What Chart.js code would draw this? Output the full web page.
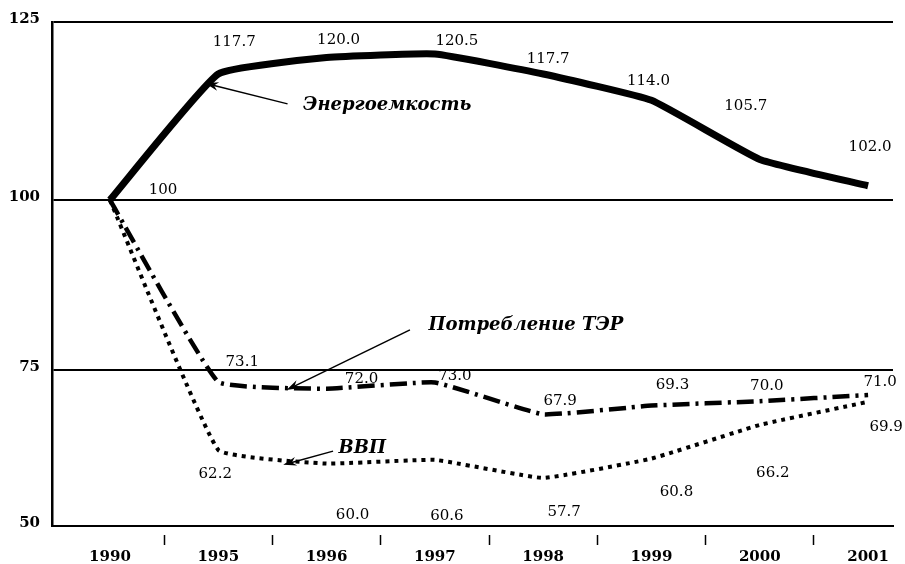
<!DOCTYPE html>
<html>
<head>
<meta charset="utf-8">
<title>Энергоемкость, потребление ТЭР и ВВП</title>
<script src="https://cdn.jsdelivr.net/npm/chart.js@4.4.1/dist/chart.umd.min.js"></script>
<style>
  html, body { margin: 0; padding: 0; background: #fff; }
  #chart { display: block; }
</style>
</head>
<body>
<canvas id="chart" width="905" height="564"></canvas>
<script>
// years along the bottom (1991-1994 are left out)
const years = ["1990", "1995", "1996", "1997", "1998", "1999", "2000", "2001"];

// indices, 1990 = 100
const energyIntensity = [100, 117.7, 120.0, 120.5, 117.7, 114.0, 105.7, 102.0];
const terConsumption = [100, 73.1, 72.0, 73.0, 67.9, 69.3, 70.0, 71.0];
const gdp = [100, 62.2, 60.0, 60.6, 57.7, 60.8, 66.2, 69.9];

const yTicks = [50, 75, 100, 125];

// the value axis is not uniform: every 25-point band has its own height (px)
const bandHeights = [156, 170, 178];

class BandedScale extends Chart.LinearScale {
    static id = "banded";
    static defaults = {};

    valueToDecimal(v) {
        const total = bandHeights.reduce((a, b) => a + b, 0);
        let acc = 0;
        for (let i = 0; i < bandHeights.length; i++) {
            const lo = yTicks[i], hi = yTicks[i + 1];
            if (v <= hi || i === bandHeights.length - 1) {
                return (acc + ((v - lo) / (hi - lo)) * bandHeights[i]) / total;
            }
            acc += bandHeights[i];
        }
        return 0;
    }

    getPixelForValue(value) {
        return this.getPixelForDecimal(this.valueToDecimal(value));
    }

    getValueForPixel(pixel) {
        const total = bandHeights.reduce((a, b) => a + b, 0);
        let d = this.getDecimalForPixel(pixel) * total;
        for (let i = 0; i < bandHeights.length; i++) {
            if (d <= bandHeights[i] || i === bandHeights.length - 1) {
                return yTicks[i] + (d / bandHeights[i]) * (yTicks[i + 1] - yTicks[i]);
            }
            d -= bandHeights[i];
        }
        return yTicks[0];
    }
}
Chart.register(BandedScale);

const points = (arr) => arr.map((v, i) => ({ x: i, y: v }));

// value labels: shift of each label from its point, null = no label
const energyShift = [[53, -10], [16, -32], [12, -17], [22, -13], [5, -15], [-3, -19], [-14, -53], [2, -39]];
const terShift = [null, [24, -20], [35, -10], [20, -6.5], [17, -13], [21, -20], [7, -15], [12, -13]];
const gdpShift = [null, [-3, 24], [26, 52], [12, 56], [21, 34], [25, 34], [13, 48], [18, 25]];

// series names with arrows, in axis units
const seriesNotes = [
    { text: "Энергоемкость", at: [2.56, 113.3], from: [1.64, 113.5], to: [0.88, 116.4] },
    { text: "Потребление ТЭР", at: [3.84, 81.6], from: [2.77, 80.9], to: [1.63, 71.8] },
    { text: "ВВП", at: [2.33, 62.5], from: [2.06, 62.0], to: [1.60, 59.8] },
];

const valueLabels = {
    id: "valueLabels",
    afterDatasetsDraw(chart) {
        const ctx = chart.ctx;
        ctx.save();
        ctx.font = "15px 'DejaVu Serif'";
        ctx.fillStyle = "#000";
        ctx.textAlign = "center";
        ctx.textBaseline = "middle";
        chart.data.datasets.forEach((ds, di) => {
            const meta = chart.getDatasetMeta(di);
            ds.labelShift.forEach((shift, i) => {
                if (!shift) return;
                const pt = meta.data[i];
                const v = ds.data[i].y;
                const text = i === 0 ? String(v) : v.toFixed(1);
                ctx.fillText(text, pt.x + shift[0], pt.y + shift[1]);
            });
        });
        ctx.restore();
    },
};

const notes = {
    id: "notes",
    afterDatasetsDraw(chart) {
        const ctx = chart.ctx;
        const sx = chart.scales.x, sy = chart.scales.y;
        const px = (p) => [sx.getPixelForValue(p[0]), sy.getPixelForValue(p[1])];
        ctx.save();
        ctx.fillStyle = "#000";
        ctx.strokeStyle = "#000";
        ctx.font = "italic bold 18px 'DejaVu Serif'";
        ctx.textAlign = "center";
        ctx.textBaseline = "middle";
        seriesNotes.forEach((n) => {
            const [tx, ty] = px(n.at);
            ctx.fillText(n.text, tx, ty);

            const [x1, y1] = px(n.from);
            const [x2, y2] = px(n.to);
            const a = Math.atan2(y2 - y1, x2 - x1);
            ctx.lineWidth = 1.5;
            ctx.beginPath();
            ctx.moveTo(x1, y1);
            ctx.lineTo(x2 - Math.cos(a) * 6, y2 - Math.sin(a) * 6);
            ctx.stroke();
            // arrow head
            ctx.beginPath();
            ctx.moveTo(x2, y2);
            ctx.lineTo(x2 - Math.cos(a - 0.32) * 14, y2 - Math.sin(a - 0.32) * 14);
            ctx.lineTo(x2 - Math.cos(a) * 9, y2 - Math.sin(a) * 9);
            ctx.lineTo(x2 - Math.cos(a + 0.32) * 14, y2 - Math.sin(a + 0.32) * 14);
            ctx.closePath();
            ctx.fill();
        });
        ctx.restore();
    },
};

Chart.defaults.font.family = "'DejaVu Serif'";
Chart.defaults.color = "#000";

new Chart(document.getElementById("chart"), {
    type: "line",
    data: {
        datasets: [
            {
                label: "Энергоемкость",
                data: points(energyIntensity),
                borderColor: "#000",
                borderWidth: 7,
                borderJoinStyle: "miter",
                tension: 0.12,
                labelShift: energyShift,
            },
            {
                label: "Потребление ТЭР",
                data: points(terConsumption),
                borderColor: "#000",
                borderWidth: 4.5,
                borderDash: [17, 6, 3, 6],
                tension: 0.1,
                labelShift: terShift,
            },
            {
                label: "ВВП",
                data: points(gdp),
                borderColor: "#000",
                borderWidth: 4,
                borderDash: [4, 5],
                tension: 0.1,
                labelShift: gdpShift,
            },
        ],
    },
    options: {
        responsive: false,
        animation: false,
        layout: { padding: { top: 22, right: 12, left: 0, bottom: 0 } },
        elements: { point: { radius: 0 } },
        plugins: {
            legend: { display: false },
            tooltip: { enabled: false },
        },
        scales: {
            x: {
                type: "linear",
                bounds: "data",
                min: -0.535,
                max: 7.23,
                afterBuildTicks: (scale) => {
                    scale.ticks = years.map((_, i) => ({ value: i }));
                },
                afterFit: (scale) => {
                    scale.height = 38;
                },
                ticks: {
                    autoSkip: false,
                    maxRotation: 0,
                    padding: 3,
                    font: { size: 15, weight: "bold" },
                    callback: (v) => years[v],
                },
                grid: {
                    offset: true,
                    drawOnChartArea: false,
                    tickLength: 19,
                    tickWidth: 1.5,
                    tickBorderDash: [0, 8, 11, 40],
                    tickColor: (c) => (c.index === 0 ? "rgba(0,0,0,0)" : "#000"),
                },
                border: { display: true, color: "#000", width: 2 },
            },
            y: {
                type: "banded",
                min: 50,
                max: 125,
                afterBuildTicks: (scale) => {
                    scale.ticks = yTicks.map((v) => ({ value: v }));
                },
                afterFit: (scale) => {
                    scale.width = 52;
                },
                ticks: {
                    padding: 12,
                    labelOffset: -3,
                    font: { size: 15, weight: "bold" },
                },
                grid: {
                    color: "#000",
                    lineWidth: 2,
                    drawTicks: false,
                },
                border: { display: true, color: "#000", width: 2.5 },
            },
        },
    },
    plugins: [valueLabels, notes],
});
</script>
</body>
</html>
